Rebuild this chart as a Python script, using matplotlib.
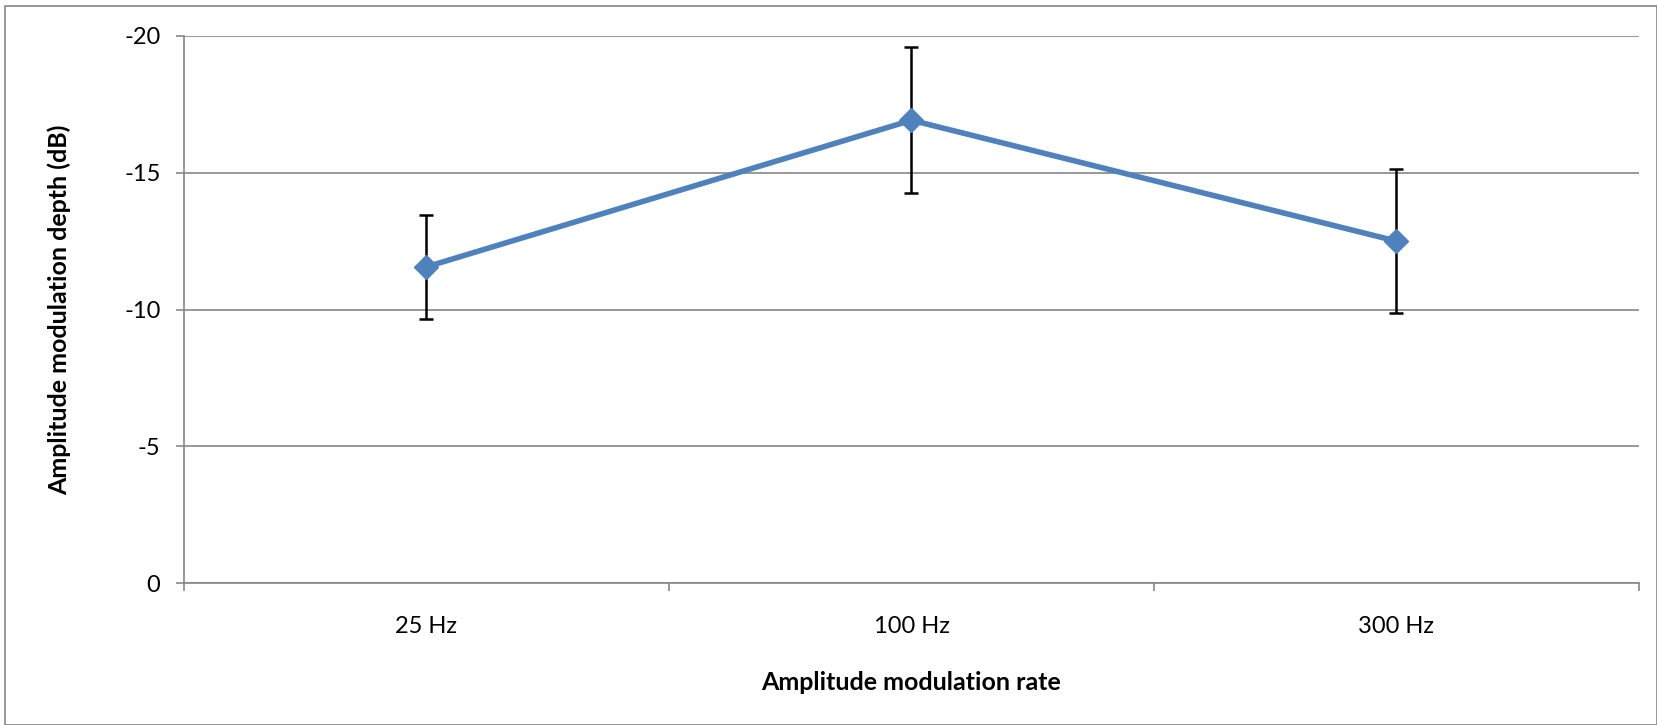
import numpy as np
from matplotlib import pyplot as plt
from matplotlib.patches import Rectangle

# -----------DATA-----------------
rates = ["25 Hz", "100 Hz", "300 Hz"]
depth = [-11.56, -16.92, -12.5]
err = [1.9, 2.67, 2.63]
y_ticks = [0, -5, -10, -15, -20]

W, H = 1658, 725
fig = plt.figure(figsize=(W / 100, H / 100), dpi=100)
plt.rcParams["font.family"] = ["Lato", "DejaVu Sans"]

# plot area in pixels: left 184, right 1639, top 36, bottom 583
ax = fig.add_axes([184 / W, 1 - 583 / H, (1639 - 184) / W, (583 - 36) / H])

grey = "#868686"
x = np.arange(len(rates))

ax.errorbar(x, depth, yerr=err, fmt="none", ecolor="black", elinewidth=1.8,
            capsize=5, capthick=1.8, zorder=2)
ax.plot(x, depth, color="#4F81BD", lw=4, marker="D", markersize=12, zorder=3)

ax.set_xlim(-0.5, len(rates) - 0.5)
ax.set_ylim(0, -20)
ax.set_yticks(y_ticks)
ax.set_yticklabels([str(v) for v in y_ticks])
ax.set_xticks(x)
ax.set_xticklabels(rates)
ax.set_xticks(np.arange(-0.5, len(rates), 1), minor=True)

ax.grid(axis="y", color=grey, lw=1.2)
ax.set_axisbelow(True)
for s in ["top", "right"]:
    ax.spines[s].set_visible(False)
for s in ["left", "bottom"]:
    ax.spines[s].set_color(grey)
    ax.spines[s].set_linewidth(1.2)

ax.tick_params(axis="y", length=6, color=grey, width=1.2, labelsize=17, pad=11)
ax.tick_params(axis="x", which="major", length=0, labelsize=17, pad=24)
ax.tick_params(axis="x", which="minor", length=6, color=grey, width=1.2)

ax.set_xlabel("Amplitude modulation rate", fontsize=18, fontweight="bold", labelpad=24)
ax.set_ylabel("Amplitude modulation depth (dB)", fontsize=18, fontweight="bold", labelpad=38)

# outer chart frame
fig.patches.append(Rectangle((5 / W, 0), (W - 6) / W, 1 - 6 / H, transform=fig.transFigure,
                             fill=False, edgecolor=grey, lw=1.2))

fig.savefig("out.png", dpi=100)
